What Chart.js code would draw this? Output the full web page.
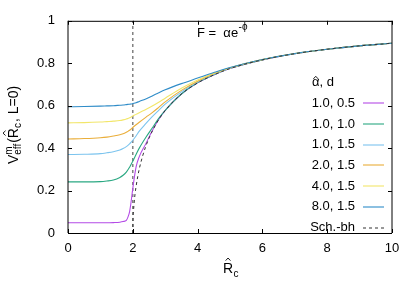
<!DOCTYPE html>
<html>
<head>
<meta charset="utf-8">
<script src="https://cdn.jsdelivr.net/npm/chart.js@4.4.1/dist/chart.umd.min.js"></script>
<style>
  html, body { margin: 0; padding: 0; background: #fff; }
  #wrap { width: 417px; height: 292px; }
</style>
</head>
<body>
<div id="wrap"><canvas id="veffChart"></canvas></div>
<script>
// R_c grid shared by the alpha,d curves
var rc = [0, 0.5, 1.0, 1.2, 1.4, 1.6, 1.7, 1.8, 1.85, 1.9, 1.95, 2.0, 2.1, 2.2, 2.4, 2.6, 2.8, 3.0, 3.5, 4.0, 4.5, 5, 6, 7, 8, 9, 10];

var vA1D05 = [0.048, 0.048, 0.048, 0.048, 0.049, 0.051, 0.054, 0.06, 0.075, 0.10, 0.15, 0.21, 0.31, 0.36, 0.42, 0.482, 0.535, 0.578, 0.655, 0.708, 0.745, 0.775, 0.816, 0.845, 0.866, 0.882, 0.894];
var vA1D10 = [0.241, 0.241, 0.242, 0.245, 0.25, 0.262, 0.272, 0.287, 0.298, 0.31, 0.324, 0.338, 0.37, 0.40, 0.45, 0.495, 0.54, 0.578, 0.655, 0.709, 0.746, 0.776, 0.816, 0.845, 0.866, 0.882, 0.894];
var vA1D15 = [0.37, 0.371, 0.374, 0.378, 0.383, 0.391, 0.398, 0.407, 0.413, 0.42, 0.428, 0.437, 0.457, 0.48, 0.515, 0.548, 0.578, 0.607, 0.665, 0.712, 0.748, 0.777, 0.817, 0.845, 0.866, 0.882, 0.894];
var vA2D15 = [0.443, 0.445, 0.449, 0.452, 0.457, 0.463, 0.468, 0.475, 0.479, 0.484, 0.49, 0.497, 0.51, 0.522, 0.545, 0.567, 0.592, 0.618, 0.672, 0.715, 0.75, 0.778, 0.817, 0.846, 0.866, 0.882, 0.894];
var vA4D15 = [0.519, 0.52, 0.523, 0.525, 0.527, 0.53, 0.533, 0.537, 0.54, 0.543, 0.547, 0.552, 0.559, 0.567, 0.582, 0.598, 0.616, 0.635, 0.682, 0.721, 0.753, 0.779, 0.818, 0.846, 0.866, 0.882, 0.894];
var vA8D15 = [0.595, 0.596, 0.598, 0.599, 0.6, 0.602, 0.603, 0.605, 0.606, 0.607, 0.608, 0.61, 0.614, 0.62, 0.632, 0.646, 0.661, 0.675, 0.704, 0.73, 0.756, 0.78, 0.818, 0.846, 0.866, 0.882, 0.894];

// Schwarzschild black hole curve
var schR = [2.0, 2.01, 2.02, 2.04, 2.07, 2.1, 2.15, 2.2, 2.3, 2.4, 2.5, 2.75, 3.0, 3.5, 4.0, 4.5, 5, 6, 7, 8, 9, 10];
var schV = [0, 0.07, 0.1, 0.14, 0.185, 0.218, 0.264, 0.302, 0.361, 0.408, 0.447, 0.522, 0.577, 0.655, 0.707, 0.745, 0.775, 0.816, 0.845, 0.866, 0.882, 0.894];

// horizon marker
var horizonR = [2, 2];
var horizonV = [0, 1];

var seriesLabels = ["1.0, 0.5", "1.0, 1.0", "1.0, 1.5", "2.0, 1.5", "4.0, 1.5", "8.0, 1.5", "Sch.-bh"];
var seriesValues = [vA1D05, vA1D10, vA1D15, vA2D15, vA4D15, vA8D15];
var seriesColors = ["#b44be6", "#2aa882", "#7cc4ee", "#eaae3a", "#f2e66a", "#2f8cc8"];

var xTicks = [0, 2, 4, 6, 8, 10];
var yTicks = [0, 0.2, 0.4, 0.6, 0.8, 1];

var FONT = "'Liberation Sans', Arial, sans-serif";

function toPoints(xs, ys) {
  return xs.map(function (x, i) { return {x: x, y: ys[i]}; });
}

var datasets = [];
datasets.push({
  label: "", data: toPoints(horizonR, horizonV),
  borderColor: "#6e6e6e", borderWidth: 1.3, borderDash: [3, 3],
  pointRadius: 0, fill: false, order: 10
});
seriesValues.forEach(function (vals, i) {
  datasets.push({
    label: seriesLabels[i], data: toPoints(rc, vals),
    borderColor: seriesColors[i], borderWidth: 1.1,
    pointRadius: 0, fill: false, cubicInterpolationMode: "monotone", order: 9 - i
  });
});
datasets.push({
  label: seriesLabels[6], data: toPoints(schR, schV),
  borderColor: "#333", borderWidth: 1, borderDash: [3, 3],
  pointRadius: 0, fill: false, cubicInterpolationMode: "monotone", order: 0
});

// small chevron used as a hat accent
function drawHat(ctx, cx, y) {
  ctx.save();
  ctx.strokeStyle = "#000";
  ctx.lineWidth = 0.9;
  ctx.setLineDash([]);
  ctx.beginPath();
  ctx.moveTo(cx - 2.4, y + 2.6);
  ctx.lineTo(cx, y);
  ctx.lineTo(cx + 2.4, y + 2.6);
  ctx.stroke();
  ctx.restore();
}

var decorPlugin = {
  id: "decor",
  afterDraw: function (chart) {
    var ctx = chart.ctx;
    var a = chart.chartArea;
    var xs = chart.scales.x, ys = chart.scales.y;
    ctx.save();
    ctx.fillStyle = "#000";
    ctx.strokeStyle = "#000";

    // frame
    ctx.lineWidth = 1;
    ctx.beginPath();
    ctx.moveTo(a.left, a.top + 0.5); ctx.lineTo(a.right, a.top + 0.5);
    ctx.moveTo(a.left, a.bottom + 0.5); ctx.lineTo(a.right, a.bottom + 0.5);
    ctx.moveTo(a.left, a.top); ctx.lineTo(a.left, a.bottom);
    ctx.moveTo(a.right, a.top); ctx.lineTo(a.right, a.bottom);
    ctx.stroke();

    // inward ticks, mirrored
    ctx.beginPath();
    xTicks.forEach(function (v) {
      var px = Math.round(xs.getPixelForValue(v)) + 0.5;
      ctx.moveTo(px, a.bottom); ctx.lineTo(px, a.bottom - 4);
      ctx.moveTo(px, a.top); ctx.lineTo(px, a.top + 4);
    });
    yTicks.forEach(function (v) {
      var py = Math.round(ys.getPixelForValue(v)) + 0.5;
      ctx.moveTo(a.left, py); ctx.lineTo(a.left + 4, py);
      ctx.moveTo(a.right, py); ctx.lineTo(a.right - 4, py);
    });
    ctx.stroke();

    // title F = alpha e^-phi
    ctx.font = "13px " + FONT;
    ctx.textAlign = "left";
    ctx.textBaseline = "alphabetic";
    var tx = a.left + 129, ty = a.top + 16;
    ctx.fillText("F =  αe", tx, ty);
    var w = ctx.measureText("F =  αe").width;
    ctx.font = "10px " + FONT;
    ctx.fillText("-ϕ", tx + w + 0.5, ty - 7);

    // legend
    var lx = a.right - 37;
    ctx.font = "13px " + FONT;
    ctx.textAlign = "left";
    var kt = "α, d";
    var kw = ctx.measureText(kt).width;
    var kx = a.right - 69 - kw / 2;
    ctx.fillText(kt, kx, a.top + 65.5);
    drawHat(ctx, kx + ctx.measureText("α").width / 2, a.top + 55.5);

    ctx.textAlign = "right";
    ctx.textBaseline = "middle";
    var row = 0;
    chart.data.datasets.forEach(function (ds) {
      if (!ds.label) return;
      var y = a.top + 82.5 + row * 20.7;
      ctx.fillStyle = "#000";
      ctx.fillText(ds.label, lx, y);
      ctx.save();
      ctx.strokeStyle = ds.borderColor;
      ctx.lineWidth = ds.borderWidth;
      ctx.setLineDash(ds.borderDash || []);
      ctx.beginPath();
      ctx.moveTo(lx + 8, Math.round(y));
      ctx.lineTo(lx + 29, Math.round(y));
      ctx.stroke();
      ctx.restore();
      row++;
    });

    // x axis title: R-hat sub c
    ctx.fillStyle = "#000";
    ctx.font = "14px " + FONT;
    ctx.textAlign = "left";
    ctx.textBaseline = "alphabetic";
    var rx = 223, rb = 273;
    ctx.fillText("R", rx, rb);
    var rw = ctx.measureText("R").width;
    drawHat(ctx, rx + rw / 2, rb - 15);
    ctx.font = "10px " + FONT;
    ctx.fillText("c", rx + rw + 0.5, rb + 4);

    // y axis title: V^m_eff(R-hat_c, L=0), rotated
    ctx.save();
    ctx.translate(18, 125);
    ctx.rotate(-Math.PI / 2);
    var parts = [
      {t: "V", s: 14, dy: 0},
      {t: "m", s: 10, dy: -6, stackWith: "eff", sdy: 3},
      {t: "(R", s: 14, dy: 0, hat: true},
      {t: "c", s: 10, dy: 3},
      {t: ", L=0)", s: 14, dy: 0}
    ];
    var total = 0;
    parts.forEach(function (p) {
      ctx.font = p.s + "px " + FONT;
      var pw = ctx.measureText(p.t).width;
      if (p.stackWith) pw = Math.max(pw, ctx.measureText(p.stackWith).width);
      p.w = pw + (p.s < 14 ? 1 : 0);
      total += p.w;
    });
    var cx = -total / 2;
    ctx.textAlign = "left";
    parts.forEach(function (p) {
      ctx.font = p.s + "px " + FONT;
      ctx.fillText(p.t, cx, p.dy);
      if (p.stackWith) ctx.fillText(p.stackWith, cx, p.sdy);
      if (p.hat) {
        var pw2 = ctx.measureText("(").width;
        var rw2 = ctx.measureText("R").width;
        drawHat(ctx, cx + pw2 + rw2 / 2, -15);
        ctx.font = p.s + "px " + FONT;
      }
      cx += p.w;
    });
    ctx.restore();

    ctx.restore();
  }
};

var ctx1 = document.getElementById("veffChart").getContext("2d");
new Chart(ctx1, {
  type: "line",
  data: {datasets: datasets},
  options: {
    responsive: true,
    maintainAspectRatio: false,
    animation: false,
    layout: {padding: {top: 17, right: 25, left: 0, bottom: 0}},
    plugins: {legend: {display: false}, tooltip: {enabled: false}},
    scales: {
      x: {
        type: "linear", min: 0, max: 10,
        afterBuildTicks: function (s) { s.ticks = xTicks.map(function (v) { return {value: v}; }); },
        afterFit: function (s) { s.height = 59; },
        grid: {display: false, drawTicks: false},
        border: {display: false},
        ticks: {color: "#000", padding: 8, maxRotation: 0, font: {family: FONT, size: 13}}
      },
      y: {
        type: "linear", min: 0, max: 1,
        afterBuildTicks: function (s) { s.ticks = yTicks.map(function (v) { return {value: v}; }); },
        afterFit: function (s) { s.width = 68; },
        grid: {display: false, drawTicks: false},
        border: {display: false},
        ticks: {color: "#000", padding: 13, font: {family: FONT, size: 13},
          callback: function (v) { return String(Math.round(v * 10) / 10); }}
      }
    }
  },
  plugins: [decorPlugin]
});
</script>
</body>
</html>
